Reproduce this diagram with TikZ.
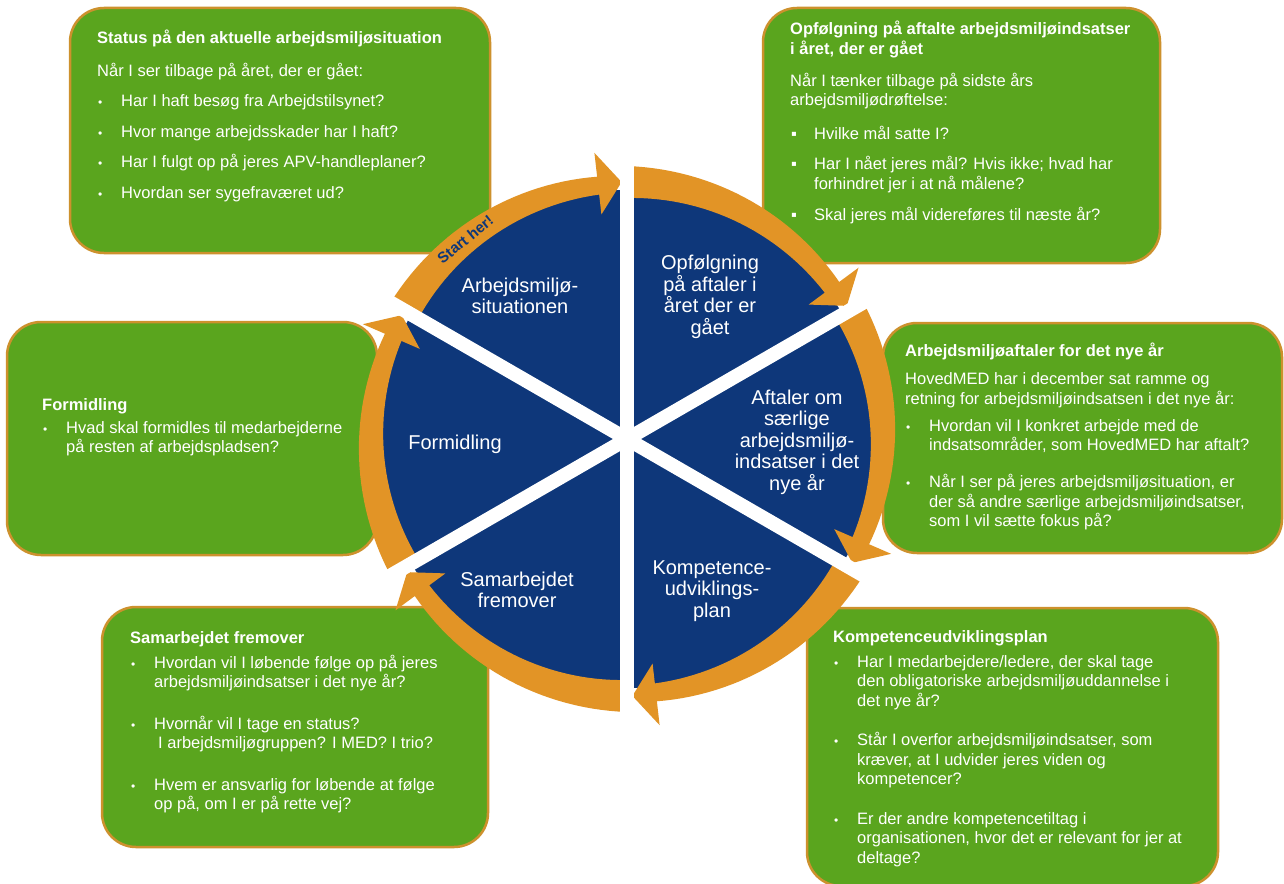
\documentclass[tikz,border=0pt]{standalone}
\usepackage{fontspec}
\setmainfont{Liberation Sans}

\definecolor{boxgreen}{RGB}{90,165,30}
\definecolor{boxedge}{RGB}{205,145,45}
\definecolor{ringorange}{RGB}{226,148,38}
\definecolor{wheelblue}{RGB}{14,55,122}

\newcommand{\bul}{\makebox[24pt][l]{\kern1pt{\fontsize{12}{12}\selectfont\textbullet}}}
\newcommand{\sq}{\makebox[24pt][l]{\kern1pt ▪}}
\newcommand{\ind}{\hspace*{24pt}}

\begin{document}
\begin{tikzpicture}[
    x=1pt, y=1pt,
    infobox/.style={draw=boxedge, line width=2.5pt, fill=boxgreen, rounded corners=34pt},
    infotext/.style={anchor=north west, inner sep=0pt, align=left, text=white,
        font=\fontsize{16.5}{19.5}\selectfont},
    wheellabel/.style={align=center, text=white, font=\fontsize{20}{21.5}\selectfont},
    starttext/.style={text=wheelblue, font=\bfseries\fontsize{15}{15}\selectfont}
]

\fill[white] (0,0) rectangle (1284,-883);
\useasboundingbox (0,0) rectangle (1284,-883);

% Wheel centre
\def\cx{627}
\def\cy{-439}

% Green boxes
\draw[infobox] (70,-8) rectangle (490,-253);
\draw[infobox] (763,-8) rectangle (1160,-263);
\draw[infobox] (883,-323) rectangle (1282,-553);
\draw[infobox] (807,-608) rectangle (1218,-886);
\draw[infobox] (102,-607) rectangle (488,-847);
\draw[infobox] (7,-322) rectangle (377,-555);

% Box texts
\node[infotext] (status) at (97,-30) {\textbf{Status på den aktuelle arbejdsmiljøsituation}\\[13.5pt]
Når I ser tilbage på året, der er gået:\\[10.5pt]
\bul Har I haft besøg fra Arbejdstilsynet?\\[11pt]
\bul Hvor mange arbejdsskader har I haft?\\[11pt]
\bul Har I fulgt op på jeres APV-handleplaner?\\[11pt]
\bul Hvordan ser sygefraværet ud?};

\node[infotext] (opfolg) at (790,-21) {\textbf{Opfølgning på aftalte arbejdsmiljøindsatser}\\
\textbf{i året, der er gået}\\[12.5pt]
Når I tænker tilbage på sidste års\\
arbejdsmiljødrøftelse:\\[14.5pt]
\sq Hvilke mål satte I?\\[10.5pt]
\sq Har I nået jeres mål? Hvis ikke; hvad har\\
\ind forhindret jer i at nå målene?\\[11.5pt]
\sq Skal jeres mål videreføres til næste år?};

\node[infotext] (aftaler) at (905,-343) {\textbf{Arbejdsmiljøaftaler for det nye år}\\[8.5pt]
HovedMED har i december sat ramme og\\
retning for arbejdsmiljøindsatsen i det nye år:\\[7.5pt]
\bul Hvordan vil I konkret arbejde med de\\
\ind indsatsområder, som HovedMED har aftalt?\\[17.5pt]
\bul Når I ser på jeres arbejdsmiljøsituation, er\\
\ind der så andre særlige arbejdsmiljøindsatser,\\
\ind som I vil sætte fokus på?};

\node[infotext] (kompetence) at (833,-630) {\textbf{Kompetenceudviklingsplan}\\[5.5pt]
\bul Har I medarbejdere/ledere, der skal tage\\
\ind den obligatoriske arbejdsmiljøuddannelse i\\
\ind det nye år?\\[20pt]
\bul Står I overfor arbejdsmiljøindsatser, som\\
\ind kræver, at I udvider jeres viden og\\
\ind kompetencer?\\[20pt]
\bul Er der andre kompetencetiltag i\\
\ind organisationen, hvor det er relevant for jer at\\
\ind deltage?};

\node[infotext] (samarbejde) at (130,-631) {\textbf{Samarbejdet fremover}\\[5.5pt]
\bul Hvordan vil I løbende følge op på jeres\\
\ind arbejdsmiljøindsatser i det nye år?\\[22pt]
\bul Hvornår vil I tage en status?\\
\ind\hspace*{4pt}I arbejdsmiljøgruppen? I MED? I trio?\\[22pt]
\bul Hvem er ansvarlig for løbende at følge\\
\ind op på, om I er på rette vej?};

\node[infotext] (formidling) at (42,-398) {\textbf{Formidling}\\[3.5pt]
\bul Hvad skal formidles til medarbejderne\\
\ind på resten af arbejdspladsen?};

% Wheel with arrows
\begin{scope}[shift={(\cx,\cy)}]
\fill[wheelblue] (0,0) circle (249);
\foreach \s in {150,90,30,-30,-90,-150} {
    \pgfmathsetmacro\hb{\s-53.5}
    \pgfmathsetmacro\tp{\s-58.8}
    \fill[ringorange] plot[domain=\s:\hb, samples=30] (\x:{273-9*((\s)-(\x))/53.5})
        -- (\hb:288) -- (\tp:257) -- (\hb:226)
        -- plot[domain=\hb:\s, samples=30] (\x:{241+5*((\s)-(\x))/53.5}) -- cycle;
}
% white spokes
\foreach \a in {90,30,-30,-90,-150,150}
    \draw[white, line width=14pt] (0,0) -- (\a:292);
\node[starttext, rotate=39] (start) at (129:257) {Start her!};
\end{scope}

% Wheel labels
\node[wheellabel] (situation) at (520,-296) {Arbejdsmiljø-\\situationen};
\node[wheellabel] (aaret) at (710,-297) {Opfølgning\\på aftaler i\\året der er\\gået};
\node[wheellabel] (saerlige) at (797,-442) {Aftaler om\\særlige\\arbejdsmiljø-\\indsatser i det\\nye år};
\node[wheellabel] (plan) at (712,-591) {Kompetence-\\udviklings-\\plan};
\node[wheellabel] (fremover) at (517,-590) {Samarbejdet\\fremover};
\node[wheellabel] (formid) at (455,-444) {Formidling};

\end{tikzpicture}
\end{document}
